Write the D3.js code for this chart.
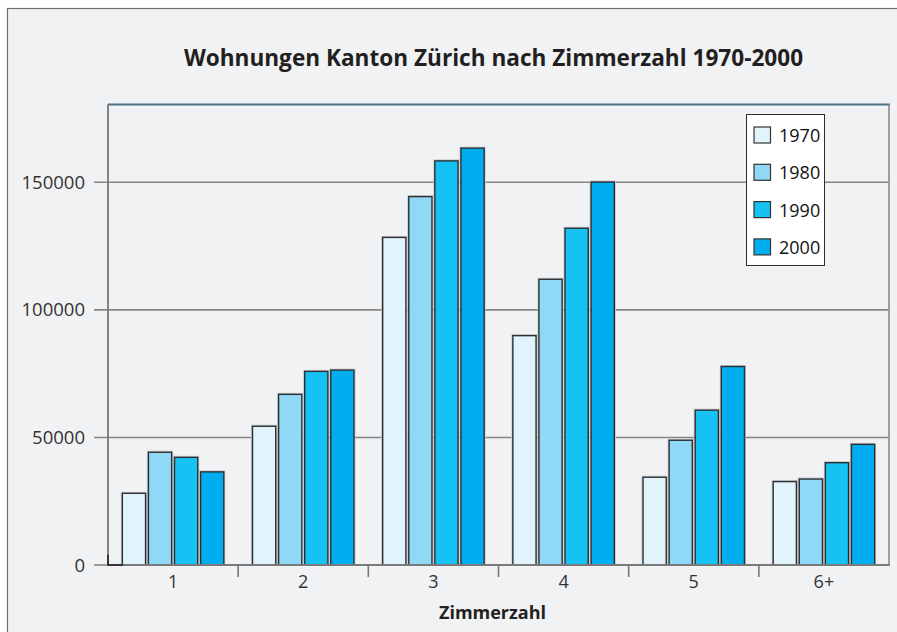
<!DOCTYPE html>
<html><head><meta charset="utf-8">
<script src="https://cdn.jsdelivr.net/npm/d3@7"></script>
<style>html,body{margin:0;padding:0;background:#fff;}svg{display:block;}</style>
</head><body>
<script>
const categories = ["1", "2", "3", "4", "5", "6+"];
const years = ["1970", "1980", "1990", "2000"];
const v1970 = [28100, 54400, 128400, 89900, 34400, 32700];
const v1980 = [44200, 66900, 144400, 112000, 48900, 33700];
const v1990 = [42200, 75900, 158400, 132000, 60700, 40100];
const v2000 = [36500, 76400, 163400, 150100, 77800, 47300];
const yTicks = [0, 50000, 100000, 150000];
const title = "Wohnungen Kanton Zürich nach Zimmerzahl 1970-2000";
const xTitle = "Zimmerzahl";
const colors = ["#e1f3fb", "#8fd8f6", "#16c2f3", "#00aeef"];

const series = [v1970, v1980, v1990, v2000];
const W = 897, H = 632;
const FONT = "'Open Sans', 'Noto Sans', sans-serif";
const svg = d3.select("body").append("svg").attr("width", W).attr("height", H);

// frame
svg.append("rect").attr("x", 7.5).attr("y", 8.5).attr("width", W + 20).attr("height", H + 20)
  .attr("fill", "#f1f2f4").attr("stroke", "#6e6e6e").attr("stroke-width", 1.2);

const pL = 108, pR = 889, pB = 565, pT = 104.5;
const x = d3.scaleBand().domain(categories).range([pL, pR]).padding(0);
const xi = d3.scaleBand().domain(years).range([0, x.bandwidth()]).paddingInner(0.11).paddingOuter(0.55);
const y = d3.scaleLinear().domain([0, 180500]).range([pB, pT]);

// title
svg.append("text").attr("x", 493.5).attr("y", 66).attr("text-anchor", "middle")
  .attr("font-family", FONT).attr("font-weight", "bold").attr("font-size", 22.6)
  .attr("fill", "#231f20").text(title);

// gridlines + y ticks
const yg = svg.append("g");
yg.selectAll("line.g").data(yTicks).join("line").attr("class", "g")
  .attr("x1", 94).attr("x2", d => d > 0 ? pR : pL).attr("y1", d => y(d)).attr("y2", d => y(d))
  .attr("stroke", "#858585").attr("stroke-width", 1.6);
yg.selectAll("text").data(yTicks).join("text")
  .attr("x", 85).attr("y", d => y(d) + 6.5).attr("text-anchor", "end")
  .attr("font-family", FONT).attr("font-size", 18.5).attr("fill", "#333")
  .text(d => d);

// plot frame: top (slate) and right
svg.append("line").attr("x1", pL).attr("x2", pR + 1).attr("y1", pT).attr("y2", pT)
  .attr("stroke", "#4d7184").attr("stroke-width", 1.8);
svg.append("line").attr("x1", pR).attr("x2", pR).attr("y1", pT).attr("y2", pB)
  .attr("stroke", "#8a8a8a").attr("stroke-width", 1.6);

// bars
const groups = svg.append("g").selectAll("g").data(categories).join("g")
  .attr("transform", d => `translate(${x(d)},0)`);
const rows = (c, i) => series.map((s, k) => ({ year: years[k], v: s[i], k }));
groups.selectAll("rect.sh").data(rows).join("rect").attr("class", "sh")
  .attr("x", d => xi(d.year) - 1).attr("y", d => y(d.v) - 1)
  .attr("width", xi.bandwidth() + 2).attr("height", d => y(0) - y(d.v) + 1)
  .attr("fill", "none").attr("stroke", "#c8c8c8").attr("stroke-width", 1);
groups.selectAll("rect.b").data(rows).join("rect").attr("class", "b")
  .attr("x", d => xi(d.year)).attr("y", d => y(d.v))
  .attr("width", xi.bandwidth()).attr("height", d => y(0) - y(d.v))
  .attr("fill", d => colors[d.k]).attr("stroke", "#2b2f33").attr("stroke-width", 1.4);

// axes lines
svg.append("line").attr("x1", pL).attr("x2", pL).attr("y1", pT).attr("y2", pB)
  .attr("stroke", "#777").attr("stroke-width", 1.8);
svg.append("line").attr("x1", pL).attr("x2", pR + 1).attr("y1", pB).attr("y2", pB)
  .attr("stroke", "#7a7a7a").attr("stroke-width", 1.8);
// origin mark
svg.append("path").attr("d", `M${pL},${y(4000)}V${pB}H${pL + 15}`)
  .attr("fill", "none").attr("stroke", "#222").attr("stroke-width", 1.6);

// x ticks at group boundaries
svg.append("g").selectAll("line").data(categories.slice(1)).join("line")
  .attr("x1", d => x(d)).attr("x2", d => x(d)).attr("y1", pB).attr("y2", pB + 12)
  .attr("stroke", "#777").attr("stroke-width", 1.6);
svg.append("g").selectAll("text").data(categories).join("text")
  .attr("x", d => x(d) + x.bandwidth() / 2).attr("y", 588).attr("text-anchor", "middle")
  .attr("font-family", FONT).attr("font-size", 18).attr("fill", "#333").text(d => d);

svg.append("text").attr("x", 492.5).attr("y", 619).attr("text-anchor", "middle")
  .attr("font-family", FONT).attr("font-weight", "bold").attr("font-size", 18)
  .attr("fill", "#231f20").text(xTitle);

// legend
const lg = svg.append("g");
lg.append("rect").attr("x", 746.5).attr("y", 114.5).attr("width", 78).attr("height", 151)
  .attr("fill", "#fff").attr("stroke", "#2b2b2b").attr("stroke-width", 1);
const li = lg.selectAll("g").data(years).join("g")
  .attr("transform", (d, i) => `translate(0,${i * 37.3})`);
li.append("rect").attr("x", 754).attr("y", 127).attr("width", 16.5).attr("height", 16)
  .attr("fill", (d, i) => colors[i]).attr("stroke", "#333").attr("stroke-width", 1.2);
li.append("text").attr("x", 779).attr("y", 142).attr("font-family", FONT)
  .attr("font-size", 18).attr("fill", "#111").text(d => d);
</script>
</body></html>
